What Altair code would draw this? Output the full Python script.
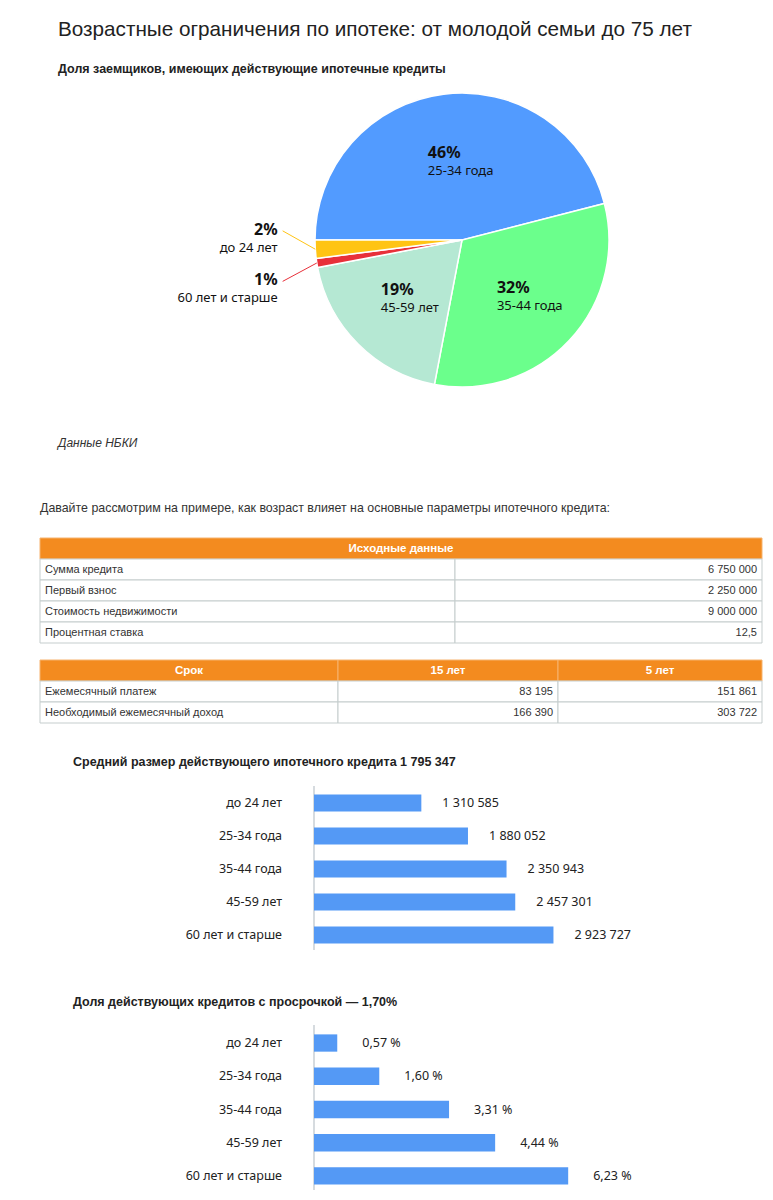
import math
import altair as alt
import pandas as pd

# ---------------- data ----------------
TITLE = "Возрастные ограничения по ипотеке: от молодой семьи до 75 лет"
PIE_TITLE = "Доля заемщиков, имеющих действующие ипотечные кредиты"
SOURCE = "Данные НБКИ"
INTRO = "Давайте рассмотрим на примере, как возраст влияет на основные параметры ипотечного кредита:"

pie_groups = ["25-34 года", "35-44 года", "45-59 лет", "60 лет и старше", "до 24 лет"]
pie_shares = [46, 32, 19, 1, 2]

t1_header = ["Исходные данные"]
t1_labels = ["Сумма кредита", "Первый взнос", "Стоимость недвижимости", "Процентная ставка"]
t1_values = ["6 750 000", "2 250 000", "9 000 000", "12,5"]

t2_header = ["Срок", "15 лет", "5 лет"]
t2_labels = ["Ежемесячный платеж", "Необходимый ежемесячный доход"]
t2_15 = ["83 195", "166 390"]
t2_5 = ["151 861", "303 722"]

bar_groups = ["до 24 лет", "25-34 года", "35-44 года", "45-59 лет", "60 лет и старше"]
AVG_TITLE = "Средний размер действующего ипотечного кредита 1 795 347"
avg_loan = [1310585, 1880052, 2350943, 2457301, 2923727]
OVERDUE_TITLE = "Доля действующих кредитов с просрочкой — 1,70%"
overdue = [0.57, 1.60, 3.31, 4.44, 6.23]

# ---------------- style / layout ----------------
W = 757
PIE_H = 530
R = 147
CX, CY = 454, 232
START = 1.5 * math.pi
LAB_R = 0.55
OUT_X = -1.22
OUT_DY = {"до 24 лет": -0.125, "60 лет и старше": 0.125}
PIE_COLORS = ["#529bff", "#6bff8c", "#b5e8d3", "#e8303a", "#ffc414"]
LEADER_COLORS = ["#529bff", "#6bff8c", "#b5e8d3", "#ec5a6a", "#f7cb3a"]

TEXT = "#222222"
SANS = "Liberation Sans, Arial, sans-serif"
NARROW = "Liberation Sans Narrow, Liberation Sans, Arial, sans-serif"
LABF = "Noto Sans, Open Sans, sans-serif"
ORANGE = "#f38b1f"
BORDER = "#c5cdcd"
ROW_H = 21
BAR_COLOR = "#5499f5"
AX0 = 306


def text_at(t, x, y, **kw):
    kw.setdefault("align", "left")
    kw.setdefault("baseline", "middle")
    kw.setdefault("color", TEXT)
    return alt.Chart(pd.DataFrame({"t": [t]})).mark_text(**kw).encode(
        text="t:N", x=alt.value(x), y=alt.value(y)
    )


# ---------------- pie panel ----------------
tot = float(sum(pie_shares))
rows = []
acc = 0.0
for g, v in zip(pie_groups, pie_shares):
    t0 = acc / tot
    acc += v
    t1 = acc / tot
    mid = START + 2 * math.pi * (t0 + t1) / 2
    rows.append(dict(group=g, share=v, pct=f"{v}%", t0=t0, t1=t1, cx=0.0, cy=0.0,
                     sx=math.sin(mid), sy=-math.cos(mid),
                     ix=LAB_R * math.sin(mid), iy=-LAB_R * math.cos(mid)))
pie_df = pd.DataFrame(rows)
inner_df = pie_df[pie_df["share"] >= 5].copy()
outer_df = pie_df[pie_df["share"] < 5].copy()
outer_df["ex"] = OUT_X
outer_df["ey"] = outer_df["sy"] + outer_df["group"].map(OUT_DY)

pxs = alt.Scale(domain=[-CX / R, (W - CX) / R], range=[0, W], nice=False, zero=False)
pys = alt.Scale(domain=[-CY / R, (PIE_H - CY) / R], range=[0, PIE_H], nice=False, zero=False)
col_scale = alt.Scale(domain=pie_groups, range=PIE_COLORS)
lead_scale = alt.Scale(domain=pie_groups, range=LEADER_COLORS)

arcs = alt.Chart(pie_df).mark_arc(radius=R, stroke="white", strokeWidth=1.5).encode(
    x=alt.X("cx:Q", scale=pxs, axis=None),
    y=alt.Y("cy:Q", scale=pys, axis=None),
    theta=alt.Theta("t0:Q", scale=alt.Scale(domain=[0, 1], range=[START, START + 2 * math.pi]), stack=False),
    theta2="t1:Q",
    color=alt.Color("group:N", scale=col_scale, legend=None),
)
inner_pct = alt.Chart(inner_df).mark_text(align="left", baseline="middle", dx=-24, dy=-7,
                                          font=LABF, fontSize=16, fontWeight="bold", color="#111").encode(
    x=alt.X("ix:Q", scale=pxs, axis=None), y=alt.Y("iy:Q", scale=pys, axis=None), text="pct:N")
inner_name = alt.Chart(inner_df).mark_text(align="left", baseline="middle", dx=-24, dy=11,
                                           font=LABF, fontSize=13, color="#111").encode(
    x=alt.X("ix:Q", scale=pxs, axis=None), y=alt.Y("iy:Q", scale=pys, axis=None), text="group:N")
leaders = alt.Chart(outer_df).mark_rule(strokeWidth=1).encode(
    x=alt.X("sx:Q", scale=pxs, axis=None), y=alt.Y("sy:Q", scale=pys, axis=None),
    x2="ex:Q", y2="ey:Q",
    color=alt.Color("group:N", scale=lead_scale, legend=None))
outer_pct = alt.Chart(outer_df).mark_text(align="right", baseline="middle", dx=-5, dy=-1,
                                          font=LABF, fontSize=16, fontWeight="bold", color="#111").encode(
    x=alt.X("ex:Q", scale=pxs, axis=None), y=alt.Y("ey:Q", scale=pys, axis=None), text="pct:N")
outer_name = alt.Chart(outer_df).mark_text(align="right", baseline="middle", dx=-5, dy=17,
                                           font=LABF, fontSize=13, color="#111").encode(
    x=alt.X("ex:Q", scale=pxs, axis=None), y=alt.Y("ey:Q", scale=pys, axis=None), text="group:N")

pie_panel = alt.layer(
    text_at(TITLE, 50, 22, font=SANS, fontSize=20.7),
    text_at(PIE_TITLE, 50, 61, font=SANS, fontSize=12.5, fontWeight="bold"),
    arcs, inner_pct, inner_name, leaders, outer_pct, outer_name,
    text_at(SOURCE, 50, 435, font=SANS, fontSize=12, fontStyle="italic", color="#333"),
    text_at(INTRO, 32, 500, font=SANS, fontSize=12.4, color="#333"),
).properties(width=W, height=PIE_H)


# ---------------- tables ----------------
def table_panel(header, body, edges, panel_h):
    cells = []
    if len(header) == 1:
        cells.append(dict(r=0, x0=edges[0], x1=edges[-1], kind="head", pos="c", text=header[0]))
    else:
        for j, h in enumerate(header):
            cells.append(dict(r=0, x0=edges[j], x1=edges[j + 1], kind="head", pos="c", text=h))
    for i, row in enumerate(body):
        for j, v in enumerate(row):
            cells.append(dict(r=i + 1, x0=edges[j], x1=edges[j + 1], kind="body",
                              pos="l" if j == 0 else "r", text=v))
    df = pd.DataFrame(cells)
    df["tx"] = [
        (a + b) / 2 if p == "c" else (a + 5 if p == "l" else b - 5)
        for a, b, p in zip(df["x0"], df["x1"], df["pos"])
    ]
    n = len(body) + 1
    xs = alt.Scale(domain=[0, W], range=[0, W], nice=False, zero=False)
    ys = alt.Scale(domain=list(range(n)), range=[0, n * ROW_H], paddingInner=0, paddingOuter=0)
    X = lambda f: alt.X(f, scale=xs, axis=None)
    Y = alt.Y("r:O", scale=ys, axis=None)
    base = alt.Chart(df)
    head_rect = base.transform_filter("datum.kind == 'head'").mark_rect(
        color=ORANGE, stroke="#f6b36e", strokeWidth=1).encode(x=X("x0:Q"), x2="x1:Q", y=Y)
    body_rect = base.transform_filter("datum.kind == 'body'").mark_rect(
        color="white", stroke=BORDER, strokeWidth=1).encode(x=X("x0:Q"), x2="x1:Q", y=Y)
    head_txt = base.transform_filter("datum.pos == 'c'").mark_text(
        align="center", baseline="middle", font=NARROW, fontSize=11.5, fontWeight="bold", color="white"
    ).encode(x=X("tx:Q"), y=Y, text="text:N")
    left_txt = base.transform_filter("datum.pos == 'l'").mark_text(
        align="left", baseline="middle", font=NARROW, fontSize=11, color="#333"
    ).encode(x=X("tx:Q"), y=Y, text="text:N")
    right_txt = base.transform_filter("datum.pos == 'r'").mark_text(
        align="right", baseline="middle", font=NARROW, fontSize=11, color="#333"
    ).encode(x=X("tx:Q"), y=Y, text="text:N")
    return alt.layer(head_rect, body_rect, head_txt, left_txt, right_txt).properties(width=W, height=panel_h)


t1 = table_panel(t1_header, [[a, b] for a, b in zip(t1_labels, t1_values)], [32, 447, 754], 122)
t2 = table_panel(t2_header, [[a, b, c] for a, b, c in zip(t2_labels, t2_15, t2_5)], [32, 330, 550, 754], 85)


# ---------------- bar panels ----------------
def bar_panel(title, values, labels, ppu, dmax, panel_h, yr, axis_y, dx):
    df = pd.DataFrame({"group": bar_groups, "value": values, "label": labels})
    xs = alt.Scale(domain=[0, dmax], range=[AX0, AX0 + dmax * ppu], nice=False, zero=False)
    ys = alt.Scale(domain=bar_groups, range=yr, paddingInner=0.48, paddingOuter=0.24)
    Y = alt.Y("group:N", scale=ys, sort=bar_groups, axis=None)
    base = alt.Chart(df)
    bars = base.mark_bar(color=BAR_COLOR).encode(x=alt.X("value:Q", scale=xs, axis=None), y=Y)
    vals = base.mark_text(align="left", baseline="middle", dx=dx, font=LABF, fontSize=12.5, color=TEXT).encode(
        x=alt.X("value:Q", scale=xs, axis=None), y=Y, text="label:N")
    cats = base.mark_text(align="right", baseline="middle", font=LABF, fontSize=12.5, color=TEXT).encode(
        x=alt.value(AX0 - 32), y=Y, text="group:N")
    axis_line = alt.Chart(pd.DataFrame({"v": [0]})).mark_rule(color="#c9cfd4", strokeWidth=1.5).encode(
        x=alt.X("v:Q", scale=xs, axis=None), y=alt.value(axis_y[0]), y2=alt.value(axis_y[1]))
    ttl = text_at(title, 65, 17, font=SANS, fontSize=12.5, fontWeight="bold")
    return alt.layer(ttl, axis_line, bars, vals, cats).properties(width=W, height=panel_h)


avg_labels = [f"{v:,}".replace(",", " ") for v in avg_loan]
over_labels = [f"{v:.2f}".replace(".", ",") + " %" for v in overdue]

b1 = bar_panel(AVG_TITLE, avg_loan, avg_labels, 81.9e-6, 3_000_000, 240, [41.5, 206.5], [41, 205], 21)
b2 = bar_panel(OVERDUE_TITLE, overdue, over_labels, 40.8, 7, 192, [41.4, 207.6], [40, 205], 25)

chart = alt.vconcat(pie_panel, t1, t2, b1, b2, spacing=0, bounds="flush").resolve_scale(
    x="independent", y="independent", color="independent"
).properties(padding=0).configure_view(strokeWidth=0)

chart.save("out.html", embed_options={"renderer": "svg", "actions": False})
